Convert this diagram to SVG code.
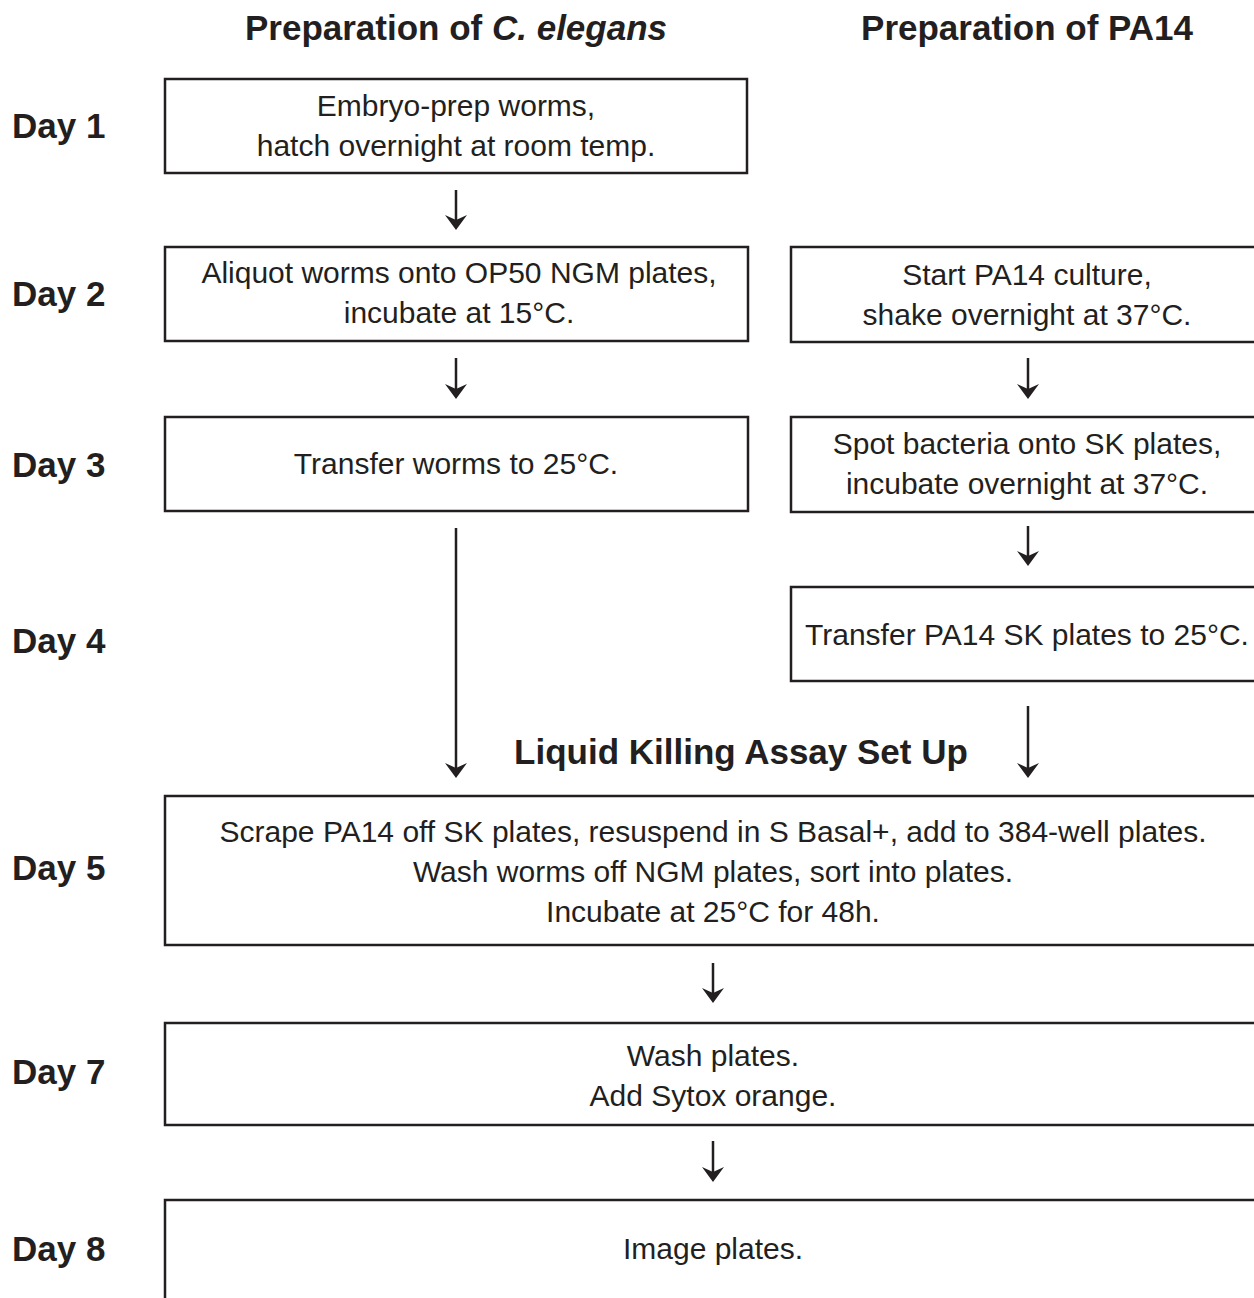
<svg xmlns="http://www.w3.org/2000/svg" width="1254" height="1298" viewBox="0 0 1254 1298">
<style>
.box{fill:#fff;stroke:#231f20;stroke-width:2.5}
.t{font-family:"Liberation Sans",Arial,sans-serif;font-size:30px;fill:#231f20;text-anchor:middle}
.h{font-family:"Liberation Sans",Arial,sans-serif;font-size:35px;font-weight:bold;fill:#231f20;text-anchor:middle}
.d{font-family:"Liberation Sans",Arial,sans-serif;font-size:35px;font-weight:bold;fill:#231f20}
.c{stroke:#231f20;stroke-width:2.5;fill:none;marker-end:url(#ah)}
</style>
<defs>
<marker id="ah" markerUnits="userSpaceOnUse" viewBox="-16 -12 24 24" refX="0" refY="0" markerWidth="24" markerHeight="24" orient="auto" overflow="visible">
<path d="M8,0 L-7,-11 L-2,0 L-7,11 Z" fill="#231f20"/>
</marker>
</defs>
<rect width="1254" height="1298" fill="#fff"/>
<g id="headings">
<text class="h" x="456" y="40">Preparation of <tspan font-style="italic">C. elegans</tspan></text>
<text class="h" x="1027" y="40">Preparation of PA14</text>
<text class="h" x="741" y="764">Liquid Killing Assay Set Up</text>
</g>
<g id="days">
<text class="d" x="12" y="138">Day 1</text>
<text class="d" x="12" y="306">Day 2</text>
<text class="d" x="12" y="477">Day 3</text>
<text class="d" x="12" y="653">Day 4</text>
<text class="d" x="12" y="880">Day 5</text>
<text class="d" x="12" y="1084">Day 7</text>
<text class="d" x="12" y="1261">Day 8</text>
</g>
<g id="n1"><rect class="box" x="165" y="79" width="582" height="94"/>
<text class="t" x="456" y="116">Embryo-prep worms,</text>
<text class="t" x="456" y="156">hatch overnight at room temp.</text></g>
<g id="n2"><rect class="box" x="165" y="247" width="583" height="94"/>
<text class="t" x="459" y="283">Aliquot worms onto OP50 NGM plates,</text>
<text class="t" x="459" y="323">incubate at 15°C.</text></g>
<g id="n3"><rect class="box" x="791" y="247" width="480" height="95"/>
<text class="t" x="1027" y="285">Start PA14 culture,</text>
<text class="t" x="1027" y="325">shake overnight at 37°C.</text></g>
<g id="n4"><rect class="box" x="165" y="417" width="583" height="94"/>
<text class="t" x="456" y="474">Transfer worms to 25°C.</text></g>
<g id="n5"><rect class="box" x="791" y="417" width="480" height="95"/>
<text class="t" x="1027" y="454">Spot bacteria onto SK plates,</text>
<text class="t" x="1027" y="494">incubate overnight at 37°C.</text></g>
<g id="n6"><rect class="box" x="791" y="587" width="480" height="94"/>
<text class="t" x="1027" y="645">Transfer PA14 SK plates to 25°C.</text></g>
<g id="n7"><rect class="box" x="165" y="796" width="1106" height="149"/>
<text class="t" x="713" y="842">Scrape PA14 off SK plates, resuspend in S Basal+, add to 384-well plates.</text>
<text class="t" x="713" y="882">Wash worms off NGM plates, sort into plates.</text>
<text class="t" x="713" y="922">Incubate at 25°C for 48h.</text></g>
<g id="n8"><rect class="box" x="165" y="1023" width="1106" height="102"/>
<text class="t" x="713" y="1066">Wash plates.</text>
<text class="t" x="713" y="1106">Add Sytox orange.</text></g>
<g id="n9"><rect class="box" x="165" y="1200" width="1106" height="120"/>
<text class="t" x="713" y="1259">Image plates.</text></g>
<g id="connectors">
<line class="c" x1="456" y1="190" x2="456" y2="222"/>
<line class="c" x1="456" y1="358" x2="456" y2="391"/>
<line class="c" x1="456" y1="528" x2="456" y2="770"/>
<line class="c" x1="1028" y1="358" x2="1028" y2="391"/>
<line class="c" x1="1028" y1="526" x2="1028" y2="558"/>
<line class="c" x1="1028" y1="706" x2="1028" y2="770"/>
<line class="c" x1="713" y1="963" x2="713" y2="995"/>
<line class="c" x1="713" y1="1141" x2="713" y2="1174"/>
</g>
</svg>
